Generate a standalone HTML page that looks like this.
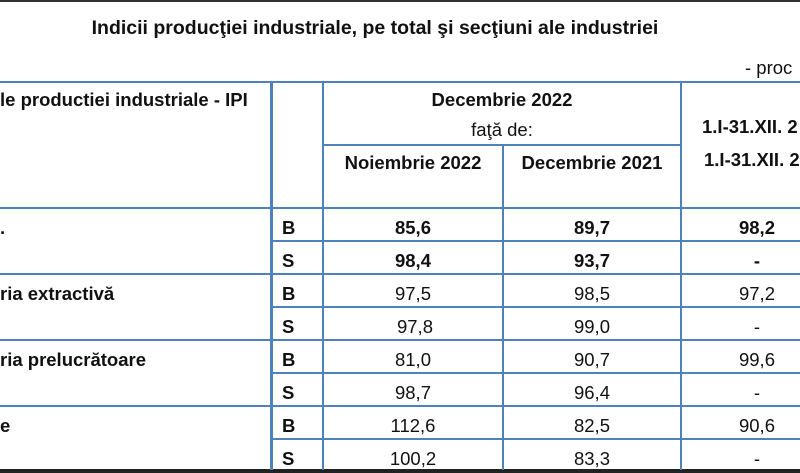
<!DOCTYPE html>
<html><head><meta charset="utf-8"><style>
body{margin:0;width:800px;height:473px;overflow:hidden;background:#fff;position:relative;font-family:"Liberation Sans",sans-serif;color:#111}
.h{position:absolute;height:2px;background:#4f81bd}
.v{position:absolute;width:2px;background:#4f81bd}
.t{position:absolute;white-space:nowrap;font-size:18.5px;line-height:20px}
.b{font-weight:bold}
.c{text-align:center}
</style></head><body>
<div style="position:absolute;left:0;top:0;width:800px;height:2px;background:#333"></div>
<div class="t b" style="left:80px;top:18px;width:590px;font-size:19.5px;text-align:center">Indicii producţiei industriale, pe total şi secţiuni ale industriei</div>
<div class="t" style="left:745px;top:58px">- proc</div>

<div class="h" style="left:0;top:81px;width:800px"></div>
<div class="h" style="left:323px;top:144px;width:359px"></div>
<div class="h" style="left:0;top:207px;width:800px"></div>
<div class="h" style="left:272px;top:240px;width:528px"></div>
<div class="h" style="left:0;top:273px;width:800px"></div>
<div class="h" style="left:272px;top:306px;width:528px"></div>
<div class="h" style="left:0;top:339px;width:800px"></div>
<div class="h" style="left:272px;top:372px;width:528px"></div>
<div class="h" style="left:0;top:405px;width:800px"></div>
<div class="h" style="left:272px;top:438px;width:528px"></div>
<div style="position:absolute;left:0;top:469px;width:800px;height:4px;background:#222"></div>
<div class="v" style="left:270px;top:81px;height:389px;width:3px"></div>
<div class="v" style="left:322px;top:81px;height:389px"></div>
<div class="v" style="left:502px;top:144px;height:326px"></div>
<div class="v" style="left:680px;top:81px;height:389px"></div>

<div class="t b" style="left:0;top:90px">le productiei industriale - IPI</div>
<div class="t b c" style="left:324px;top:90px;width:356px">Decembrie 2022</div>
<div class="t c" style="left:324px;top:120px;width:356px">faţă de:</div>
<div class="t b c" style="left:324px;top:153px;width:178px">Noiembrie 2022</div>
<div class="t b c" style="left:504px;top:153px;width:176px">Decembrie 2021</div>
<div class="t b" style="left:702px;top:117px">1.I-31.XII. 2</div>
<div class="t b" style="left:704px;top:150px">1.I-31.XII. 2</div>

<div class="t b" style="left:0;top:218px">.</div>
<div class="t b" style="left:0;top:284px">ria extractivă</div>
<div class="t b" style="left:0;top:350px">ria prelucrătoare</div>
<div class="t b" style="left:0;top:416px">e</div>

<div class="t b" style="left:282px;top:218px">B</div>
<div class="t b" style="left:282px;top:251px">S</div>
<div class="t b" style="left:282px;top:284px">B</div>
<div class="t b" style="left:282px;top:317px">S</div>
<div class="t b" style="left:282px;top:350px">B</div>
<div class="t b" style="left:282px;top:383px">S</div>
<div class="t b" style="left:282px;top:416px">B</div>
<div class="t b" style="left:282px;top:449px">S</div>

<div class="t b c" style="left:324px;top:218px;width:178px">85,6</div>
<div class="t b c" style="left:324px;top:251px;width:178px">98,4</div>
<div class="t c" style="left:324px;top:284px;width:178px">97,5</div>
<div class="t c" style="left:326px;top:317px;width:178px">97,8</div>
<div class="t c" style="left:324px;top:350px;width:178px">81,0</div>
<div class="t c" style="left:324px;top:383px;width:178px">98,7</div>
<div class="t c" style="left:324px;top:416px;width:178px">112,6</div>
<div class="t c" style="left:324px;top:449px;width:178px">100,2</div>
<div class="t b c" style="left:504px;top:218px;width:176px">89,7</div>
<div class="t b c" style="left:504px;top:251px;width:176px">93,7</div>
<div class="t c" style="left:504px;top:284px;width:176px">98,5</div>
<div class="t c" style="left:504px;top:317px;width:176px">99,0</div>
<div class="t c" style="left:504px;top:350px;width:176px">90,7</div>
<div class="t c" style="left:504px;top:383px;width:176px">96,4</div>
<div class="t c" style="left:504px;top:416px;width:176px">82,5</div>
<div class="t c" style="left:504px;top:449px;width:176px">83,3</div>
<div class="t b c" style="left:717px;top:218px;width:80px">98,2</div>
<div class="t b c" style="left:717px;top:251px;width:80px">-</div>
<div class="t c" style="left:717px;top:284px;width:80px">97,2</div>
<div class="t c" style="left:717px;top:317px;width:80px">-</div>
<div class="t c" style="left:717px;top:350px;width:80px">99,6</div>
<div class="t c" style="left:717px;top:383px;width:80px">-</div>
<div class="t c" style="left:717px;top:416px;width:80px">90,6</div>
<div class="t c" style="left:717px;top:449px;width:80px">-</div>
</body></html>
